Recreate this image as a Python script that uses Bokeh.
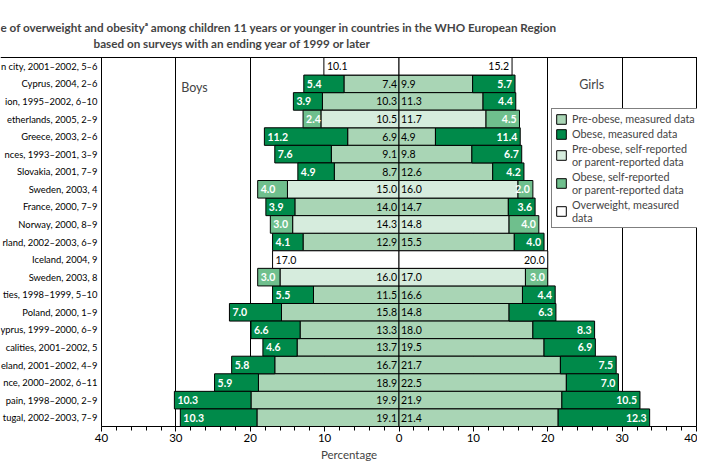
from bokeh.plotting import figure
from bokeh.models import (ColumnDataSource, Range1d, FixedTicker, Label,
                          Legend, LegendItem)
from bokeh.core.properties import value
from bokeh.embed import file_html
from bokeh.resources import INLINE

# ---------------- data (top row first) ----------------
row_labels = [
    "n city, 2001\u20132002, 5\u20136", "Cyprus, 2004, 2\u20136", "ion, 1995\u20132002, 6\u201310",
    "etherlands, 2005, 2\u20139", "Greece, 2003, 2\u20136", "nces, 1993\u20132001, 3\u20139",
    "Slovakia, 2001, 7\u20139", "Sweden, 2003, 4", "France, 2000, 7\u20139", "Norway, 2000, 8\u20139",
    "rland, 2002\u20132003, 6\u20139", "Iceland, 2004, 9", "Sweden, 2003, 8",
    "ties, 1998\u20131999, 5\u201310", "Poland, 2000, 1\u20139", "yprus, 1999\u20132000, 6\u20139",
    "calities, 2001\u20132002, 5", "eland, 2001\u20132002, 4\u20139", "nce, 2000\u20132002, 6\u201311",
    "pain, 1998\u20132000, 2\u20139", "tugal, 2002\u20132003, 7\u20139",
]
# m = measured, s = self/parent-reported, ow = overweight measured only
data_kind = ["ow", "m", "m", "s", "m", "m", "m", "s", "m", "s", "m", "ow", "s",
             "m", "m", "m", "m", "m", "m", "m", "m"]
boys_pre = [None, 7.4, 10.3, 10.5, 6.9, 9.1, 8.7, 15.0, 14.0, 14.3, 12.9, None, 16.0,
            11.5, 15.8, 13.3, 13.7, 16.7, 18.9, 19.9, 19.1]
boys_obese = [None, 5.4, 3.9, 2.4, 11.2, 7.6, 4.9, 4.0, 3.9, 3.0, 4.1, None, 3.0,
              5.5, 7.0, 6.6, 4.6, 5.8, 5.9, 10.3, 10.3]
girls_pre = [None, 9.9, 11.3, 11.7, 4.9, 9.8, 12.6, 16.0, 14.7, 14.8, 15.5, None, 17.0,
             16.6, 14.8, 18.0, 19.5, 21.7, 22.5, 21.9, 21.4]
girls_obese = [None, 5.7, 4.4, 4.5, 11.4, 6.7, 4.2, 2.0, 3.6, 4.0, 4.0, None, 3.0,
               4.4, 6.3, 8.3, 6.9, 7.5, 7.0, 10.5, 12.3]
boys_overweight = [10.1, None, None, None, None, None, None, None, None, None, None, 17.0,
                   None, None, None, None, None, None, None, None, None]
girls_overweight = [15.2, None, None, None, None, None, None, None, None, None, None, 20.0,
                    None, None, None, None, None, None, None, None, None]
x_ticks = [-40, -30, -20, -10, 0, 10, 20, 30, 40]
x_tick_labels = ["40", "30", "20", "10", "0", "10", "20", "30", "40"]

title_line1 = "e of overweight and obesity\u1d43 among children 11 years or younger in countries in the WHO European Region"
title_line2 = "based on surveys with an ending year of 1999 or later"

PRE_M = "#a9d5b5"
OB_M = "#008a4a"
PRE_S = "#d6ecdd"
OB_S = "#6fbf8d"
FONT = "Lato"

n = len(row_labels)
ypos = [n - 1 - i for i in range(n)]
XMIN, XMAX = -40, 40


def build(kind):
    idx = [i for i in range(n) if data_kind[i] == kind]
    bp = [boys_pre[i] for i in idx]
    bo = [boys_obese[i] for i in idx]
    gp = [girls_pre[i] for i in idx]
    go = [girls_obese[i] for i in idx]
    return ColumnDataSource(dict(
        y=[ypos[i] for i in idx],
        bp_l=[-v for v in bp], zero=[0.0] * len(idx),
        bo_l=[-(a + b) for a, b in zip(bp, bo)], bo_r=[-v for v in bp],
        gp_r=gp, go_r=[a + b for a, b in zip(gp, go)],
        bp_t=["%.1f" % v for v in bp], bo_t=["%.1f" % v for v in bo],
        gp_t=["%.1f" % v for v in gp], go_t=["%.1f" % v for v in go],
    ))


src_m = build("m")
src_s = build("s")
ow_idx = [i for i in range(n) if data_kind[i] == "ow"]
src_ow = ColumnDataSource(dict(
    y=[ypos[i] for i in ow_idx],
    bl=[-boys_overweight[i] for i in ow_idx], zero=[0.0] * len(ow_idx),
    gr=[girls_overweight[i] for i in ow_idx],
    bt=["%.1f" % boys_overweight[i] for i in ow_idx],
    gt=["%.1f" % girls_overweight[i] for i in ow_idx],
))
src_lab = ColumnDataSource(dict(y=ypos, x=[XMIN] * n, label=row_labels))

# frame covers the whole canvas; the drawn box is -40..40 x rows
px_per_x = 595.0 / 80.0
px_per_y = 369.0 / n
x_lo = XMIN - 101 / px_per_x
x_hi = XMAX + 1 / px_per_x
y_lo = -0.5
y_hi = n - 0.5 + 57 / px_per_y

p = figure(width=697, height=463, output_backend="svg", toolbar_location=None,
           title=None, x_range=Range1d(x_lo, x_hi), y_range=Range1d(y_lo, y_hi),
           min_border_left=0, min_border_right=0, min_border_top=0, min_border_bottom=37)
p.outline_line_color = None
p.background_fill_color = "white"
p.border_fill_color = "white"

p.yaxis.visible = False
p.xgrid.ticker = FixedTicker(ticks=[-40, -30, -20, -10, 10, 20, 30, 40])
p.xgrid.cross_bounds = (-0.5, n - 0.5)
p.xgrid.grid_line_color = "black"
p.xgrid.grid_line_width = 1
p.ygrid.ticker = FixedTicker(ticks=[n - 0.5])
p.ygrid.bounds = (XMIN, XMAX)
p.ygrid.grid_line_color = "black"
p.ygrid.grid_line_width = 1

ax = p.xaxis[0]
ax.bounds = (XMIN, XMAX)
ax.ticker = FixedTicker(ticks=x_ticks, minor_ticks=list(range(-40, 41, 2)))
ax.major_label_overrides = {t: l for t, l in zip(x_ticks, x_tick_labels)}
ax.axis_line_color = "black"
ax.major_tick_line_color = "black"
ax.minor_tick_line_color = "black"
ax.major_tick_in = 0
ax.minor_tick_in = 0
ax.major_tick_out = 5
ax.minor_tick_out = 4
ax.major_label_standoff = 2
ax.major_label_text_font = FONT
ax.major_label_text_font_size = "11.5px"
ax.major_label_text_color = "black"
ax.axis_label = "Percentage"
ax.axis_label_text_font = FONT
ax.axis_label_text_font_size = "11.5px"
ax.axis_label_text_font_style = "normal"
ax.axis_label_standoff = 3

bar_kw = dict(height=1, line_color="black", line_width=1)
r_pm = p.hbar(y="y", left="bp_l", right="zero", fill_color=PRE_M, source=src_m, **bar_kw)
r_om = p.hbar(y="y", left="bo_l", right="bo_r", fill_color=OB_M, source=src_m, **bar_kw)
p.hbar(y="y", left="zero", right="gp_r", fill_color=PRE_M, source=src_m, **bar_kw)
p.hbar(y="y", left="gp_r", right="go_r", fill_color=OB_M, source=src_m, **bar_kw)
r_ps = p.hbar(y="y", left="bp_l", right="zero", fill_color=PRE_S, source=src_s, **bar_kw)
r_os = p.hbar(y="y", left="bo_l", right="bo_r", fill_color=OB_S, source=src_s, **bar_kw)
p.hbar(y="y", left="zero", right="gp_r", fill_color=PRE_S, source=src_s, **bar_kw)
p.hbar(y="y", left="gp_r", right="go_r", fill_color=OB_S, source=src_s, **bar_kw)
r_ow = p.hbar(y="y", left="bl", right="zero", fill_color="white", source=src_ow, **bar_kw)
p.hbar(y="y", left="zero", right="gr", fill_color="white", source=src_ow, **bar_kw)

txt = dict(text_font=value(FONT), text_font_size="10.5px", text_baseline="middle")
for s in (src_m, src_s):
    p.text(x="zero", y="y", text="bp_t", text_align="right", x_offset=-2,
           text_color="black", source=s, **txt)
    p.text(x="zero", y="y", text="gp_t", text_align="left", x_offset=2,
           text_color="black", source=s, **txt)
    p.text(x="bo_l", y="y", text="bo_t", text_align="left", x_offset=3,
           text_color="white", text_font_style="bold", source=s, **txt)
    p.text(x="go_r", y="y", text="go_t", text_align="right", x_offset=-3,
           text_color="white", text_font_style="bold", source=s, **txt)
p.text(x="bl", y="y", text="bt", text_align="left", x_offset=3, text_color="black",
       source=src_ow, **txt)
p.text(x="gr", y="y", text="gt", text_align="right", x_offset=-3, text_color="black",
       source=src_ow, **txt)

# row labels (left of the box)
p.text(x="x", y="y", text="label", x_offset=-4, text_align="right", text_baseline="middle",
       text_font=value(FONT), text_font_size="9.4px", text_color="black", source=src_lab)

# Boys / Girls
p.add_layout(Label(x=-27.5, y=n - 0.5 - 30 / px_per_y, text="Boys", text_align="center",
                   text_baseline="middle", text_font=FONT, text_font_size="12.5px"))
p.add_layout(Label(x=25.9, y=n - 0.5 - 27 / px_per_y, text="Girls", text_align="center",
                   text_baseline="middle", text_font=FONT, text_font_size="12.5px"))

# title lines
p.add_layout(Label(x=x_lo, y=n - 0.5 + 31 / px_per_y, text=title_line1, text_align="left",
                   text_baseline="middle", text_font=FONT, text_font_size="11.7px",
                   text_font_style="bold"))
p.add_layout(Label(x=XMIN - 8 / px_per_x, y=n - 0.5 + 15 / px_per_y, text=title_line2,
                   text_align="left", text_baseline="middle", text_font=FONT,
                   text_font_size="11.7px", text_font_style="bold"))

legend = Legend(items=[
    LegendItem(label="Pre-obese, measured data", renderers=[r_pm]),
    LegendItem(label="Obese, measured data", renderers=[r_om]),
    LegendItem(label="Pre-obese, self-reported\nor parent-reported data", renderers=[r_ps]),
    LegendItem(label="Obese, self-reported\nor parent-reported data", renderers=[r_os]),
    LegendItem(label="Overweight, measured\ndata", renderers=[r_ow]),
], location=(551, 198))
legend.border_line_color = "black"
legend.border_line_width = 1
legend.background_fill_color = "white"
legend.background_fill_alpha = 1
legend.label_text_font = FONT
legend.label_text_font_size = "10.8px"
legend.label_text_line_height = 0.92
legend.glyph_width = 12
legend.glyph_height = 12
legend.padding = 3
legend.spacing = 2
legend.margin = 0
legend.label_standoff = 5
p.add_layout(legend)

open("out.html", "w").write(file_html(p, INLINE))
